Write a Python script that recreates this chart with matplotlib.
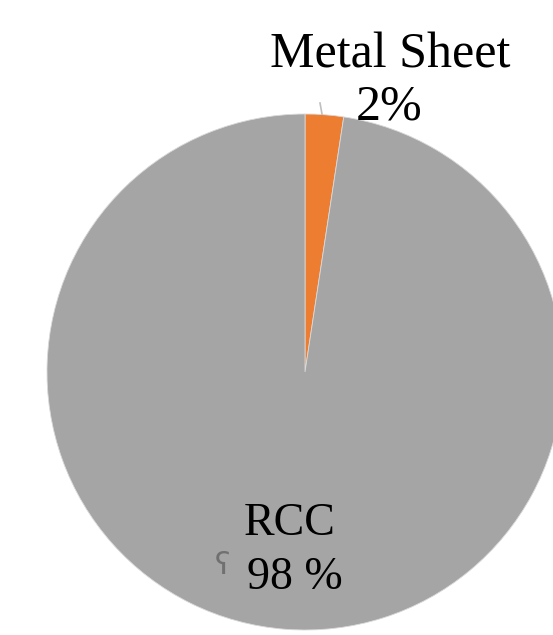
import matplotlib
matplotlib.use("Agg")
import matplotlib.pyplot as plt

categories = ["Metal Sheet", "RCC"]
values = [2.4, 97.6]
name_texts = ["Metal Sheet", "RCC"]
pct_texts = ["2%", "98 %"]
colors = ["#ED7D31", "#A5A5A5"]

W, H = 553, 635
fig = plt.figure(figsize=(W / 100, H / 100), dpi=100)
ax = fig.add_axes([0, 0, 1, 1])

cx, cy, r = 305, H - 372, 258
ax.pie(values, colors=colors, startangle=90, counterclock=False,
       center=(cx, cy), radius=r, frame=True,
       wedgeprops=dict(edgecolor="#D9D9D9", linewidth=0.6))
ax.set_xlim(0, W)
ax.set_ylim(0, H)
ax.set_aspect("equal")
ax.axis("off")

font = "Liberation Serif"
ax.text(390, H - 67, name_texts[0], ha="center", va="baseline",
        fontsize=36, family=font)
ax.text(389, H - 120, pct_texts[0], ha="center", va="baseline",
        fontsize=36, family=font)
ax.text(290, H - 535, name_texts[1], ha="center", va="baseline",
        fontsize=33, family=font)
ax.text(295, H - 589, pct_texts[1], ha="center", va="baseline",
        fontsize=33, family=font)
# small leader line
ax.plot([320, 322], [H - 103, H - 114], color="#BFBFBF", lw=1.2)
# small clipped label fragment
ax.text(223, H - 566, "ʕ", ha="center", va="center", fontsize=22,
        color="#707070", family="DejaVu Sans")

fig.savefig("out.png", dpi=100)
